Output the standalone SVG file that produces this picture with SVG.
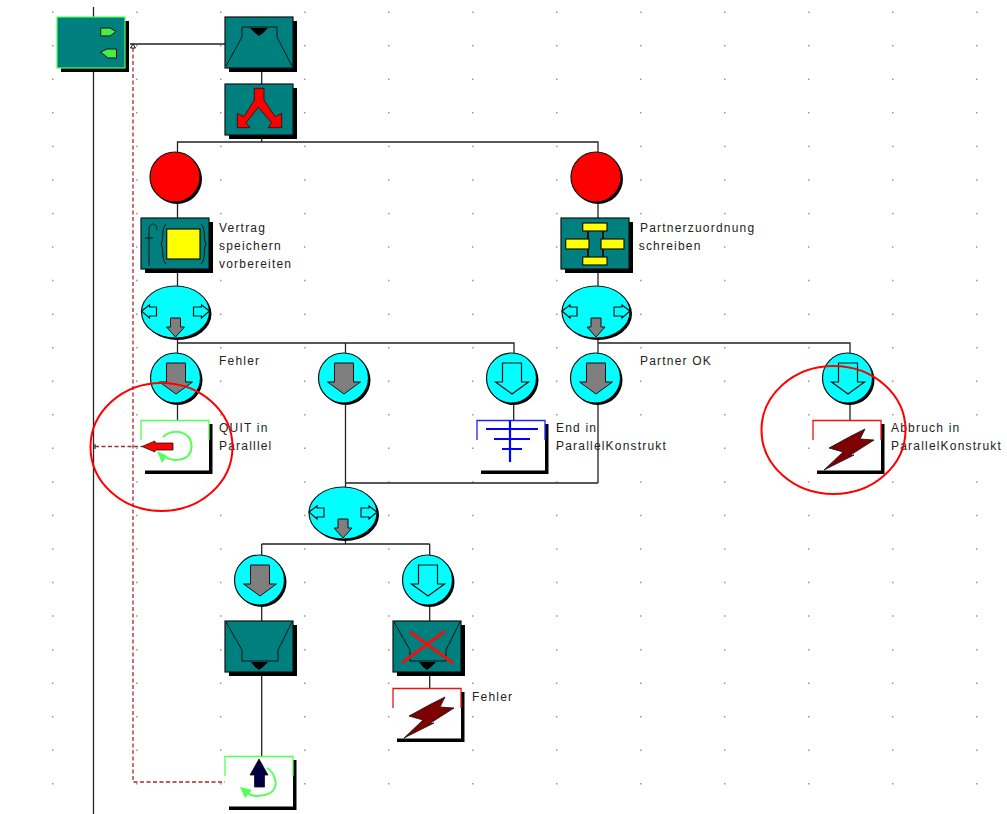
<svg xmlns="http://www.w3.org/2000/svg" width="1007" height="814" viewBox="0 0 1007 814">
<style>
.c{fill:none;stroke:#222;stroke-width:1.3}
.d{fill:none;stroke:#a02c2c;stroke-width:1.3;stroke-dasharray:4 2.5}
.s{fill:#000}
.t{fill:#007f7f;stroke:#111;stroke-width:1.2}
.o{fill:none;stroke:#111;stroke-width:1}
.cy{fill:#00ffff;stroke:#111;stroke-width:1.2}
.g{fill:#7f7f7f;stroke:#111;stroke-width:1}
.y{fill:#ffff00;stroke:#111;stroke-width:1.2}
.b{fill:#000}
.r{fill:none;stroke:#f00;stroke-width:2}
.l{fill:none;stroke:#55ff55;stroke-width:2}
.bolt{fill:#7f0000;stroke:#111;stroke-width:.8}
text{font-family:"Liberation Sans",Arial,sans-serif;font-size:12px;letter-spacing:1.2px;fill:#222}
</style>
<defs>
<g id="box"><rect class="s" x="4" y="4" width="68" height="51"/><rect class="t" width="68" height="51"/></g>
<g id="frame"><path class="s" d="M68 4H71.500V54H4V50.500H68Z"/></g>
<g id="circ"><circle class="s" cx="2" cy="2" r="25"/><circle class="cy" r="25"/></g>
<path id="down" d="M-9-15H10V4H17L0.500 16-16 4H-9Z"/>
<g id="ell"><ellipse class="s" cx="2" cy="2" rx="34" ry="26"/><ellipse class="cy" rx="34" ry="26"/>
<path class="cy" d="M-34-1L-26-7V-5H-19V4H-26V6Z"/><path class="cy" d="M34-1L26-7V-5H18V4H26V6Z"/>
<path class="g" d="M-5 6H5V15H9L0 25-9 15H-5Z"/></g>
<path id="bolt" class="bolt" d="M52 9L47 19 61 20 36 36 41 35 11 50 30 32 16 28 38 16Z"/>
<path id="gr" d="M52 45h1.500v1.500h-1.500zM136 45h1.500v1.500h-1.500zM220 45h1.500v1.500h-1.500zM304 45h1.500v1.500h-1.500zM388 45h1.500v1.500h-1.500zM472 45h1.500v1.500h-1.500zM556 45h1.500v1.500h-1.500zM640 45h1.500v1.500h-1.500zM724 45h1.500v1.500h-1.500zM808 45h1.500v1.500h-1.500zM892 45h1.500v1.500h-1.500zM976 45h1.500v1.500h-1.500z"/>
</defs>
<g id="grid" fill="#999">
<use href="#gr" y="-33.550"/><use href="#gr"/><use href="#gr" y="33.550"/><use href="#gr" y="67.100"/><use href="#gr" y="100.650"/><use href="#gr" y="134.200"/><use href="#gr" y="167.750"/><use href="#gr" y="201.300"/><use href="#gr" y="234.850"/><use href="#gr" y="268.400"/><use href="#gr" y="301.950"/><use href="#gr" y="335.500"/><use href="#gr" y="369.050"/><use href="#gr" y="402.600"/><use href="#gr" y="436.150"/><use href="#gr" y="469.700"/><use href="#gr" y="503.250"/><use href="#gr" y="536.800"/><use href="#gr" y="570.350"/><use href="#gr" y="603.900"/><use href="#gr" y="637.450"/><use href="#gr" y="671"/><use href="#gr" y="704.550"/><use href="#gr" y="738.100"/>
</g>
<g id="connectors">
<path class="c" d="M93.500 7V814M130 44H225M261.700 68V84M261.700 135V142M177.500 152V142H598V152M177.500 203V218M598 203V218M177.500 269V286M598 269V286M177.500 338V343M177.500 343V353M177.500 343H514V353M345.500 343V353M598 338V353M598 343H850V353M177.500 403V420M345.500 403V483M513.700 403V420M598 403V483M345.500 483H598M345.500 483V487M850 403V420M345.500 539V544M261.700 544H429.700M261.700 544V555M429.700 544V555M261.700 605V621M429.700 605V621M261.700 672V756M429.700 672V688"/>
<path class="d" d="M133 48V782H225M95 446.500H142"/>
<path class="o" d="M130.500 48L133 44 135.500 48ZM95 444V449"/>
</g>
<g id="n-parallel"><rect class="s" x="61" y="21" width="68" height="51"/><rect x="57" y="17" width="68" height="51" fill="#007f7f" stroke="#55ff55" stroke-width="1.200"/>
<path d="M100.700 28H110L116 31.500 110 36H100.700Z" fill="#44ee44" stroke="#111"/><path d="M100.700 52L107 49H116.500V58H108Z" fill="#44ee44" stroke="#111"/></g>
<g id="n-top"><use href="#box" x="225" y="17"/><path class="o" d="M226 66L242 37V27H277V37L292 66"/><path class="b" d="M250 28H268L263 33 259 36 255 33Z"/></g>
<g id="n-fork"><use href="#box" x="225" y="84"/><path transform="translate(225 84)" d="M29.300 4.300H39V16L50.300 32.700 56.700 29.300V43.700H43L46.700 38.700 33.300 23.300 21 38.700 25 43.700H12.300V29.300L19 32.700 29.300 16Z" fill="#ff0000" stroke="#111" stroke-width=".8"/></g>
<g id="n-red1"><circle class="s" cx="177" cy="179" r="25"/><circle cx="175" cy="177" r="25" fill="#ff0000" stroke="#111" stroke-width="1.200"/></g>
<g id="n-red2"><circle class="s" cx="598" cy="179" r="25"/><circle cx="596" cy="177" r="25" fill="#ff0000" stroke="#111" stroke-width="1.200"/></g>
<g id="n-vertrag"><use href="#box" x="141" y="218"/><rect class="y" x="166.700" y="229" width="33.300" height="30"/>
<path class="o" d="M149 266V230C149 222 157 222 157 230M145 238H153M166 224C161 228 164 240 161 244C164 248 161 260 166 264M201 224C206 228 203 240 206 244C203 248 206 260 201 264"/>
<text x="219" y="232">Vertrag</text><text x="219" y="250">speichern</text><text x="219" y="268">vorbereiten</text></g>
<g id="n-partner"><use href="#box" x="561" y="218"/><path d="M588 229V259M603 229V259" stroke="#111" stroke-width="2" fill="none"/>
<rect class="y" x="582.700" y="223" width="24.300" height="8"/><rect class="y" x="565.700" y="239" width="23.300" height="10"/><rect class="y" x="601" y="239" width="23" height="10"/><rect class="y" x="582.700" y="257" width="24.300" height="8"/>
<text x="640" y="232">Partnerzuordnung</text><text x="638.700" y="250">schreiben</text></g>
<g id="n-ell1"><use href="#ell" x="175.500" y="312"/></g>
<g id="n-ell2"><use href="#ell" x="596" y="312"/></g>
<g id="n-ell3"><use href="#ell" x="343" y="513"/></g>
<g id="n-fehler-c"><use href="#circ" x="175.500" y="378"/><use href="#down" class="g" x="175.500" y="378"/><text x="219" y="365">Fehler</text></g>
<g id="n-c2"><use href="#circ" x="343.500" y="378"/><use href="#down" class="g" x="343.500" y="378"/></g>
<g id="n-c3"><use href="#circ" x="511.500" y="378"/><use href="#down" class="cy" x="511.500" y="378"/></g>
<g id="n-partnerok"><use href="#circ" x="595.500" y="378"/><use href="#down" class="g" x="595.500" y="378"/><text x="640" y="365">Partner OK</text></g>
<g id="n-c5"><use href="#circ" x="847.500" y="378"/><use href="#down" class="cy" x="847.500" y="378"/></g>
<g id="n-quit"><use href="#frame" x="141" y="420"/><path d="M141 440V420.500H209V440" fill="none" stroke="#55ff55" stroke-width="1.300"/>
<path class="l" d="M163 437C171 428 192 430 191.500 447C191 462 170 463 163 455"/><path d="M157 451L167 456 162 463Z" fill="#55ff55"/>
<path d="M142 446.500L155 441V443H173V450H155V452Z" fill="#ff0000" stroke="#111" stroke-width=".8"/>
<text x="219" y="432">QUIT in</text><text x="219" y="450">Paralllel</text></g>
<g id="n-end"><use href="#frame" x="477" y="420"/><path d="M477 440V420.500H545V440" fill="none" stroke="#2222ff" stroke-width="1.300"/>
<path d="M510 420V462M486 429H538M494 439H530M502 449H522" fill="none" stroke="#0000ff" stroke-width="2.200"/>
<text x="556" y="432">End in</text><text x="556" y="450">ParallelKonstrukt</text></g>
<g id="n-abbruch"><use href="#frame" x="813" y="420"/><path d="M813 440V420.500H881V440" fill="none" stroke="#ee1111" stroke-width="1.300"/><use href="#bolt" x="813" y="420"/>
<text x="891" y="432">Abbruch in</text><text x="891" y="450">ParallelKonstrukt</text></g>
<g id="n-c6"><use href="#circ" x="259.500" y="580"/><use href="#down" class="g" x="259.500" y="580"/></g>
<g id="n-c7"><use href="#circ" x="427.500" y="580"/><use href="#down" class="cy" x="427.500" y="580"/></g>
<g id="n-bottom"><use href="#box" x="225" y="621"/><path class="o" d="M226 622L242 650V661H278V650L292 622"/><path class="b" d="M251 662H268L263 667 259 670 255 667Z"/></g>
<g id="n-cancel"><use href="#box" x="393" y="621"/><path class="o" d="M394 622L410 650V661H446V650L460 622"/><path class="b" d="M419 662H436L431 667 427 670 423 667Z"/><path d="M410 632L453 663M445 631L402 663" stroke="#ee1111" stroke-width="3" fill="none"/></g>
<g id="n-fehler"><use href="#frame" x="393" y="688"/><path d="M393 708V688.500H461V708" fill="none" stroke="#ee1111" stroke-width="1.300"/><use href="#bolt" x="393" y="688"/><text x="472" y="701">Fehler</text></g>
<g id="n-return"><use href="#frame" x="225" y="756"/><path d="M225 776V756.500H293V776" fill="none" stroke="#55ff55" stroke-width="1.300"/>
<path class="l" d="M267 768C274 772 277 782 275 787C272 796 254 799 246 792"/><path d="M240 787L252 790 245 798Z" fill="#55ff55"/>
<path d="M259 759L268 775H264.500V787H254.500V775H250Z" fill="#000040" stroke="#111" stroke-width=".8"/></g>
<g id="highlights"><ellipse class="r" cx="161.500" cy="447" rx="71" ry="64"/><ellipse class="r" cx="833.500" cy="430" rx="72" ry="64"/></g>
</svg>
